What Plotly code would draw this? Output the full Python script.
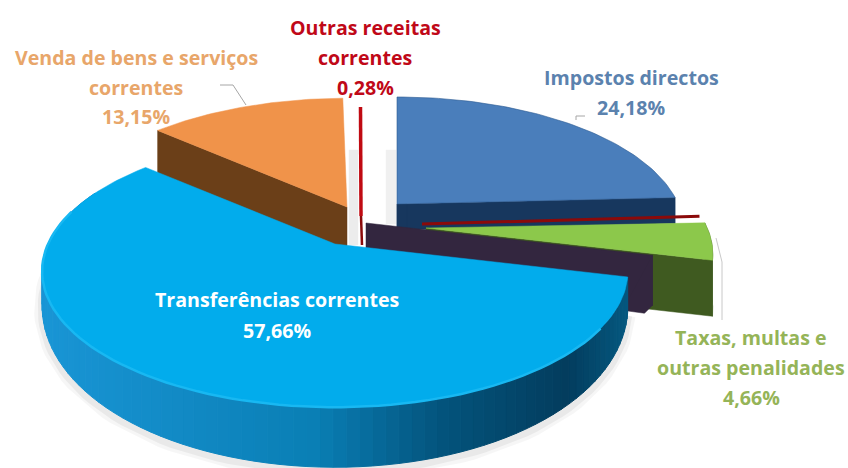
import math
import plotly.graph_objects as go

categories = ["Impostos directos", "Taxas, multas e outras penalidades",
              "Transferências correntes", "Venda de bens e serviços correntes",
              "Outras receitas correntes"]
shares = [24.18, 4.66, 57.66, 13.15, 0.28]
pct_labels = ["24,18%", "4,66%", "57,66%", "13,15%", "0,28%"]
top_colors = ["#4a7ebb", "#8cc84b", "#02acec", "#f0934a", "#c00a12"]
wall_colors = ["#17375e", "#3f5a20", "#0a7db3", "#6b3f18", "#8b0a0a"]

# Projection of the tilted disc onto the page (page pixels)
F, G, P = 287.0, 130.6, 0.2
tips = [(397, 204), (426, 228), (335, 244), (347, 207), (361, 216)]
radii = [0.98, 0.98, 1.0, 1.0, 0.98]
depths = [26, 56, 60, 44, 29]


def pt(tip, th, r=1.0, drop=0.0):
    x, y = math.sin(th), -math.cos(th)
    w = 1 - P * y * r
    return tip[0] + F * r * x / w, tip[1] + G * r * y / w + drop


def arc(tip, a, b, r=1.0, n=60, drop=0.0):
    return [pt(tip, a + (b - a) * i / n, r, drop) for i in range(n + 1)]


total = sum(shares)
edges = [0.0]
for s in shares:
    edges.append(edges[-1] + s / total * 2 * math.pi)

fig = go.Figure()


def poly(points, color, line=None, width=0):
    fig.add_trace(go.Scatter(
        x=[p[0] for p in points] + [points[0][0]],
        y=[p[1] for p in points] + [points[0][1]],
        mode="lines", fill="toself", fillcolor=color,
        line=dict(color=line or color, width=width or 0.5),
        hoverinfo="skip", showlegend=False))


def path(points, color, width, dash=None):
    fig.add_trace(go.Scatter(
        x=[p[0] for p in points], y=[p[1] for p in points], mode="lines",
        line=dict(color=color, width=width, dash=dash),
        hoverinfo="skip", showlegend=False))


def cut_face(tip, th, r, depth, color):
    c = pt(tip, th, r)
    poly([tip, c, (c[0], c[1] + depth), (tip[0], tip[1] + depth)], color)


# soft shadows between the slices
poly([(349, 150), (358, 150), (358, 245), (349, 245)], "#ececec")
poly([(386, 150), (396, 150), (396, 224), (386, 224)], "#f0f0f0")

# Impostos directos
i = 0
cut_face(tips[i], edges[1], radii[i], depths[i], wall_colors[i])
poly([tips[i], (tips[i][0], tips[i][1] + depths[i]), (tips[i][0] + 10, tips[i][1] + depths[i]),
      (tips[i][0] + 10, tips[i][1])], wall_colors[i])
poly([tips[i]] + arc(tips[i], edges[0], edges[1], radii[i]), top_colors[i], line="#2c5a92", width=0.6)

# thin dark red edge between Impostos and Taxas
red_tip = (422, 224)
path([red_tip, pt(red_tip, edges[1] - 0.01, 0.98)], "#8b0a0a", 3)

# Taxas, multas e outras penalidades
i = 1
a, b = edges[1] + 0.01, edges[2]
side = arc(tips[i], a, b, radii[i], 20)
wall = side + [(p[0], p[1] + depths[i]) for p in reversed(side)]
poly(wall, wall_colors[i])
cut_face(tips[i], b, radii[i], depths[i], wall_colors[i])
poly([tips[i]] + side, top_colors[i])

# dark purple cut face under the large slice
pur_tip = (366, 223)
cut_face(pur_tip, edges[2], 0.98, 50, "#33263f")
pc = pt(pur_tip, edges[2], 0.98)
poly([pc, (pc[0], pc[1] + 50), (pc[0] - 8, pc[1] + 58), (pc[0] - 30, pc[1] + 55)], "#33263f")

# Venda de bens e serviços correntes
i = 3
cut_face(tips[i], edges[3], radii[i], depths[i], wall_colors[i])
poly([tips[i]] + arc(tips[i], edges[3], edges[4], radii[i]), top_colors[i])

# Outras receitas correntes
i = 4
path([(tips[i][0] - 0.5, tips[i][1] - 109), (tips[i][0], tips[i][1])], top_colors[i], 3.5)
path([tips[i], (tips[i][0] + 1, tips[i][1] + depths[i])], wall_colors[i], 2.5)

# Transferências correntes: wall with horizontal shading, then top face
i = 2
a, b = edges[2], edges[3]
stops = [(40, (26, 150, 214)), (315, (10, 127, 181)), (440, (4, 84, 125)),
         (567, (3, 61, 94)), (630, (6, 90, 130))]


def shade(x):
    if x <= stops[0][0]:
        c = stops[0][1]
    elif x >= stops[-1][0]:
        c = stops[-1][1]
    else:
        for (x0, c0), (x1, c1) in zip(stops, stops[1:]):
            if x0 <= x <= x1:
                f = (x - x0) / (x1 - x0)
                c = tuple(c0[k] + (c1[k] - c0[k]) * f for k in range(3))
    return "rgb(%d,%d,%d)" % tuple(int(v) for v in c)


def wdrop(th):
    return max(0.0, 28 + 32 * (-math.cos(th)))


n = 90
end = math.radians(295)
ths = [a + (end - a) * k / n for k in range(n + 1)]
outer = [pt(tips[i], t, 1.0, wdrop(t)) for t in ths]
for w_, op in ((16, 0.035), (9, 0.05)):
    path([(p[0], p[1] + 3) for p in outer], "rgba(0,0,0,%s)" % op, w_)
for k in range(n):
    q = [pt(tips[i], ths[k]), pt(tips[i], ths[k + 1]),
         pt(tips[i], ths[k + 1], 1.0, wdrop(ths[k + 1])), pt(tips[i], ths[k], 1.0, wdrop(ths[k]))]
    poly(q, shade(sum(p[0] for p in q) / 4), width=1)
poly([tips[i]] + arc(tips[i], a, b, 1.0, 160), top_colors[i])
path(arc(tips[i], math.radians(125), math.radians(285), 1.0, 80), "#18b8f2", 2.5)

# leader lines
path([(220, 85), (233, 85), (246, 105)], "#a6a6a6", 1)
path([(576, 120), (576, 116), (585, 116)], "#a6a6a6", 1)
path([(716, 238), (722, 262), (722, 320)], "#c8c8c8", 1)

FONT = "Open Sans"
labels = [
    (["Impostos directos", pct_labels[0]], 631, [77, 107], "#5b82ae"),
    (["Taxas, multas e", "outras penalidades", pct_labels[1]], 751, [337, 367, 397], "#95b458"),
    (["Transferências correntes", pct_labels[2]], 277, [299, 330], "#ffffff"),
    (["Venda de bens e serviços", "correntes", pct_labels[3]], 136, [57, 87, 116], "#e8a66a"),
    (["Outras receitas", "correntes", pct_labels[4]], 365, [27, 57, 87], "#c00818"),
]
for lines, x, ys, col in labels:
    for line, y in zip(lines, ys):
        fig.add_annotation(x=x, y=y, text="<b>%s</b>" % line, showarrow=False,
                           xanchor="center", yanchor="middle",
                           font=dict(family=FONT, size=19.6, color=col))

fig.update_xaxes(range=[0, 848], visible=False, fixedrange=True)
fig.update_yaxes(range=[468, 0], visible=False, fixedrange=True)
fig.update_layout(width=848, height=468, margin=dict(l=0, r=0, t=0, b=0),
                  paper_bgcolor="white", plot_bgcolor="white", showlegend=False)
fig.write_html("out.html", config={"displayModeBar": False},
               post_script="document.body.style.margin='0';document.body.style.overflow='hidden';")
